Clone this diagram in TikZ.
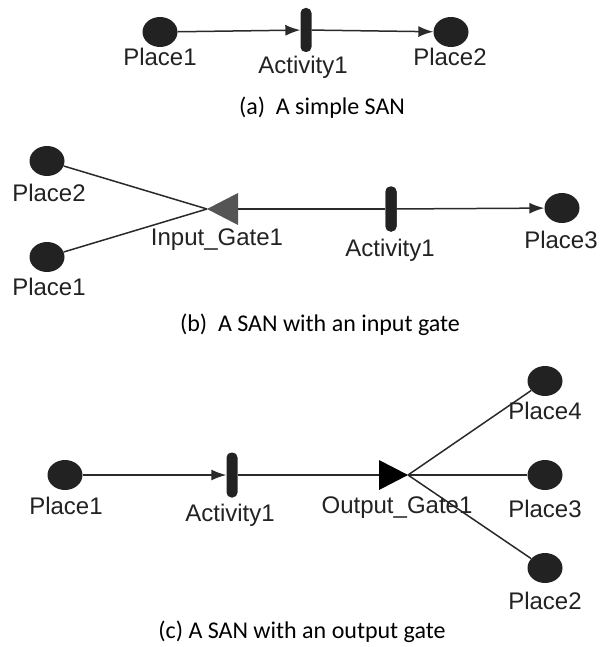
\documentclass[tikz,border=0pt]{standalone}
\usepackage{fontspec}
\setmainfont{Liberation Sans}
\newfontfamily\capfont{Carlito}
\usetikzlibrary{arrows.meta,shapes.geometric}
\definecolor{placefill}{HTML}{222222}
\definecolor{linec}{HTML}{2A2A2A}
\definecolor{gategray}{HTML}{555555}
\begin{document}
\begin{tikzpicture}[x=1pt,y=-1pt,
  place/.style={ellipse,fill=placefill,minimum width=35pt,minimum height=30pt,inner sep=0pt},
  actbar/.style={rectangle,fill=placefill,rounded corners=5pt,minimum width=11pt,minimum height=44pt,inner sep=0pt},
  lbl/.style={font=\fontsize{24}{24}\selectfont,text=placefill,inner sep=0pt},
  caption/.style={font=\capfont\fontsize{24}{24}\selectfont,text=black,inner sep=0pt},
  arc/.style={draw=linec,line width=1.5pt},
  arr/.style={arc,-{Latex[length=15pt,width=11pt]}}]
\useasboundingbox (0,0) rectangle (603,647);

% (a) a simple SAN
\node[place] (a-p1) at (160,32) {};
\node[actbar] (a-act) at (306,30) {};
\node[place] (a-p2) at (451,32) {};
\draw[arr] (a-p1) -- (a-act);
\draw[arr] (a-act) -- (a-p2);
\node[lbl] (a-p1l) at (160,57) {Place1};
\node[lbl] (a-actl) at (303,67) {Activity1};
\node[lbl] (a-p2l) at (450,57) {Place2};
\node[caption] (a-cap) at (322,108) {(a)\ \ A simple SAN};

% (b) a SAN with an input gate
\node[place] (b-p2) at (47,161) {};
\node[place] (b-p1) at (47,257) {};
\coordinate (b-gtip) at (207,209);
\coordinate (b-gbase) at (238,209);
\draw[arc] (b-p2) -- (b-gtip);
\draw[arc] (b-p1) -- (b-gtip);
\node[actbar,minimum height=45pt] (b-act) at (391,209) {};
\node[place] (b-p3) at (562,208) {};
\draw[arc] (b-gbase) -- (b-act);
\draw[arr] (b-act) -- (b-p3);
\fill[gategray] (b-gtip) -- (238,193) -- (238,225) -- cycle;
\node[actbar,minimum height=45pt] at (391,209) {};
\node[lbl] (b-p2l) at (49,193) {Place2};
\node[lbl] (b-p1l) at (49,287) {Place1};
\node[lbl] (b-gl) at (217,240) {Input\_Gate1};
\node[lbl] (b-actl) at (390,250) {Activity1};
\node[lbl] (b-p3l) at (561,240) {Place3};
\node[caption] (b-cap) at (320,325) {(b)\ \ A SAN with an input gate};

% (c) a SAN with an output gate
\node[place] (c-p1) at (65,475) {};
\node[actbar,minimum height=45pt] (c-act) at (232,475) {};
\coordinate (c-gbase) at (379,475);
\coordinate (c-gtip) at (408,475);
\node[place] (c-p4) at (545,381) {};
\node[place] (c-p3) at (545,475) {};
\node[place] (c-p2) at (545,568) {};
\draw[arr] (c-p1) -- (c-act);
\draw[arc] (c-act) -- (c-gbase);
\draw[arc] (c-gtip) -- (c-p4);
\draw[arc] (c-gtip) -- (c-p3);
\draw[arc] (c-gtip) -- (c-p2);
\fill[black] (379,460) -- (c-gtip) -- (379,490) -- cycle;
\node[lbl] (c-p1l) at (66,506) {Place1};
\node[lbl] (c-actl) at (230,515) {Activity1};
\node[lbl] (c-gl) at (397,508) {Output\_Gate1};
\node[lbl] (c-p4l) at (545,411) {Place4};
\node[lbl] (c-p3l) at (545,509) {Place3};
\node[lbl] (c-p2l) at (545,601) {Place2};
\node[caption] (c-cap) at (302,632) {(c) A SAN with an output gate};
\end{tikzpicture}
\end{document}
